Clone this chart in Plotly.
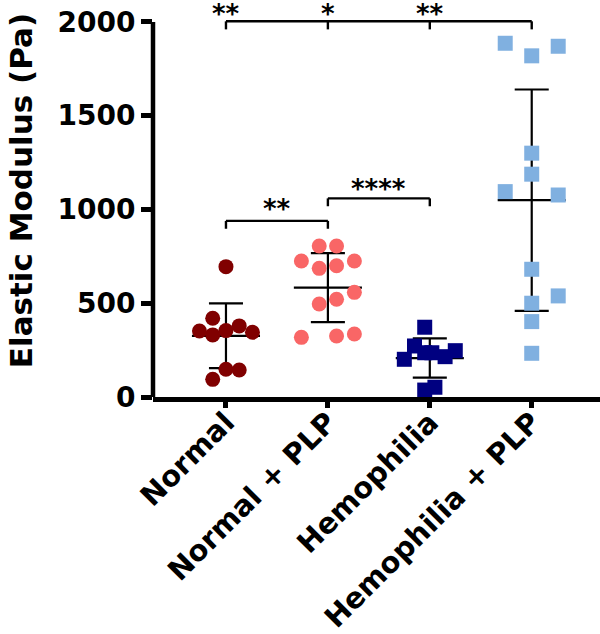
import numpy as np
import plotly.graph_objects as go

# ---------------- data ----------------
categories = ["Normal", "Normal + PLP", "Hemophilia", "Hemophilia + PLP"]

normal_vals = [695, 420, 352, 331, 354, 379, 345, 148, 144, 94]
normal_jitter = [0, -0.13, -0.26, -0.13, 0, 0.13, 0.26, 0, 0.13, -0.13]

normal_plp_vals = [805, 805, 725, 686, 700, 725, 558, 521, 496, 318, 325, 336]
normal_plp_jitter = [-0.085, 0.085, -0.26, -0.085, 0.085, 0.26, 0.26, 0.085, -0.085, -0.26, 0.085, 0.26]

hemo_vals = [372, 272, 201, 236, 236, 215, 247, 37, 52]
hemo_jitter = [-0.05, -0.15, -0.25, -0.05, 0.02, 0.15, 0.25, -0.05, 0.05]

hemo_plp_vals = [1886, 1819, 1870, 1300, 1188, 1095, 1077, 681, 539, 500, 402, 233]
hemo_plp_jitter = [-0.26, 0, 0.26, 0, 0, -0.26, 0.26, 0, 0.26, 0, 0, 0]

y_ticks = [0, 500, 1000, 1500, 2000]

# significance comparisons: (group a, group b, label)
comparisons_top = [(0, 1, "**"), (1, 2, "*"), (2, 3, "**")]
comparisons_low = [(0, 1, "**"), (1, 2, "****")]

# ---------------- styling ----------------
FONT = "DejaVu Sans, Liberation Sans, Arial, sans-serif"
groups = [
    (normal_vals, normal_jitter, "#800000", "circle"),
    (normal_plp_vals, normal_plp_jitter, "#F96666", "circle"),
    (hemo_vals, hemo_jitter, "#000080", "square"),
    (hemo_plp_vals, hemo_plp_jitter, "#80B0E0", "square"),
]
MEAN_HW = 0.334
CAP_HW = 0.167

fig = go.Figure()

# error bars (mean +/- SD) drawn first so markers sit on top
for i, (vals, jit, col, sym) in enumerate(groups):
    v = np.array(vals, dtype=float)
    m = v.mean()
    sd = v.std(ddof=1)
    xs = [i, i, None, i - CAP_HW, i + CAP_HW, None, i - CAP_HW, i + CAP_HW, None,
          i - MEAN_HW, i + MEAN_HW]
    ys = [m - sd, m + sd, None, m + sd, m + sd, None, m - sd, m - sd, None, m, m]
    fig.add_trace(go.Scatter(x=xs, y=ys, mode="lines",
                             line=dict(color="black", width=2.2),
                             hoverinfo="skip", showlegend=False))

for i, (vals, jit, col, sym) in enumerate(groups):
    fig.add_trace(go.Scatter(
        x=[i + j for j in jit], y=vals, mode="markers",
        marker=dict(color=col, size=15, symbol=sym, line=dict(width=0)),
        cliponaxis=False, showlegend=False, name=categories[i]))

shapes = []
# y-axis line from 0 to 2000
shapes.append(dict(type="line", xref="paper", yref="y", x0=0, x1=0,
                   y0=0, y1=y_ticks[-1], line=dict(color="black", width=4.5)))

def bracket(a, b, y, drop):
    return [
        dict(type="line", xref="x", yref="y", x0=a, x1=b, y0=y, y1=y,
             line=dict(color="black", width=2.4)),
        dict(type="line", xref="x", yref="y", x0=a, x1=a, y0=y, y1=y - drop,
             line=dict(color="black", width=2.4)),
        dict(type="line", xref="x", yref="y", x0=b, x1=b, y0=y, y1=y - drop,
             line=dict(color="black", width=2.4)),
    ]

annotations = []
STAR_FONT = dict(family=FONT, size=26, color="black", weight="bold")
# top bracket spanning all groups with ticks at each
shapes.append(dict(type="line", xref="x", yref="y", x0=0, x1=3, y0=2003, y1=2003,
                   line=dict(color="black", width=2.4)))
for k in range(4):
    shapes.append(dict(type="line", xref="x", yref="y", x0=k, x1=k, y0=2003, y1=1960,
                       line=dict(color="black", width=2.4)))
for a, b, lab in comparisons_top:
    annotations.append(dict(x=a, y=2068, xref="x", yref="y", text=lab, showarrow=False,
                            font=STAR_FONT, xanchor="center", yanchor="middle", yshift=-5))

low_levels = [939, 1059]
low_text_y = [1029, 1138]
for (a, b, lab), yl, yt in zip(comparisons_low, low_levels, low_text_y):
    shapes += bracket(a, b, yl, 42)
    annotations.append(dict(x=(a + b) / 2, y=yt, xref="x", yref="y", text=lab,
                            showarrow=False, font=STAR_FONT,
                            xanchor="center", yanchor="middle", yshift=-5))

# y-axis title
annotations.append(dict(x=-0.295, y=0.5255, xref="paper", yref="paper",
                        text="Elastic Modulus (Pa)", textangle=-90, showarrow=False,
                        font=dict(family=FONT, size=31, color="black", weight="bold"),
                        xanchor="center", yanchor="middle"))

fig.update_layout(
    width=600, height=634,
    margin=dict(l=153, r=0, t=5, b=237, autoexpand=False),
    paper_bgcolor="white", plot_bgcolor="white",
    shapes=shapes, annotations=annotations,
    xaxis=dict(range=[-0.716, 3.670], tickvals=list(range(4)), ticktext=categories,
               tickangle=-45, showline=True, linecolor="black", linewidth=4.5,
               ticks="outside", ticklen=6, tickwidth=4.5, tickcolor="black",
               showgrid=False, zeroline=False, automargin=False,
               ticklabelstandoff=-14,
               tickfont=dict(family=FONT, size=29, color="black", weight="bold")),
    yaxis=dict(range=[0, 2090], tickvals=y_ticks, ticktext=[str(t) for t in y_ticks],
               showline=False, ticks="outside", ticklen=11, tickwidth=4.5,
               tickcolor="black", showgrid=False, zeroline=False, automargin=False,
               tickfont=dict(family=FONT, size=28, color="black", weight="bold")),
)

# remove the page's default 8px body margin so the figure sits at the window origin
fig.write_html("out.html", config={"displayModeBar": False},
               post_script="document.body.style.margin='0';document.body.style.overflow='hidden';")
